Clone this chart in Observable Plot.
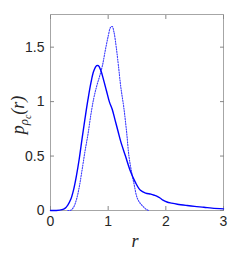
<!DOCTYPE html>
<html><head><meta charset="utf-8">
<script src="https://cdn.jsdelivr.net/npm/d3@7"></script>
<script src="https://cdn.jsdelivr.net/npm/@observablehq/plot@0.6"></script>
<style>body{margin:0;background:#fff;} svg{display:block;} .lbl{font-family:'Liberation Serif','DejaVu Serif',serif !important;font-style:italic;}</style>
</head><body><div id="chart"></div>
<script>
const solidR = [0,0.1,0.2,0.25,0.3,0.35,0.4,0.45,0.5,0.55,0.6,0.65,0.7,0.75,0.8,0.83,0.87,0.92,0.97,1.02,1.07,1.12,1.17,1.22,1.3,1.39,1.47,1.56,1.65,1.74,1.8,1.85,1.9,1.95,2.02,2.1,2.2,2.37,2.5,2.66,2.8,3.0];
const solidP = [0,0,0.008,0.02,0.05,0.1,0.19,0.32,0.48,0.67,0.85,1.02,1.17,1.28,1.33,1.33,1.29,1.2,1.1,1.0,0.93,0.83,0.73,0.63,0.5,0.355,0.26,0.185,0.16,0.15,0.14,0.13,0.115,0.095,0.078,0.068,0.058,0.046,0.038,0.03,0.022,0.015];
const dotR = [0.3,0.35,0.4,0.45,0.5,0.55,0.6,0.65,0.7,0.75,0.8,0.85,0.9,0.95,1.0,1.04,1.07,1.1,1.14,1.18,1.22,1.27,1.32,1.36,1.4,1.45,1.5,1.55,1.62,1.66,1.7];
const dotP = [0,0.002,0.03,0.1,0.22,0.38,0.55,0.7,0.88,1.03,1.14,1.23,1.33,1.47,1.6,1.68,1.69,1.64,1.5,1.32,1.13,0.95,0.72,0.5,0.37,0.24,0.12,0.07,0.03,0.01,0];
const xTicks = [0,1,2,3];
const yTicks = [0,0.5,1,1.5];
const yTickLabels = ["0","0.5","1","1.5"];

const solid = solidR.map((r,i)=>({r, p: solidP[i]}));
const dotted = dotR.map((r,i)=>({r, p: dotP[i]}));

const plot = Plot.plot({
  width: 240, height: 262,
  marginLeft: 50, marginRight: 17, marginTop: 14, marginBottom: 52,
  style: {fontFamily: "'Liberation Sans', Arial, sans-serif", fontSize: "14px", color: "#262626"},
  x: {domain: [0,3]},
  y: {domain: [0,1.8]},
  marks: [
    Plot.frame({stroke: "#a6a6a6", strokeWidth: 1}),
    Plot.axisX(xTicks, {anchor: "bottom", tickSize: -4, tickPadding: 10, stroke: "#888", fontSize: 14, fill: "#262626", label: null}),
    Plot.axisX(xTicks, {anchor: "top", tickSize: -4, tickFormat: () => "", stroke: "#888", label: null}),
    Plot.axisY(yTicks, {anchor: "left", tickSize: -4, tickPadding: 10, stroke: "#888", fontSize: 14, fill: "#262626", tickFormat: (d,i) => yTickLabels[i], label: null}),
    Plot.axisY(yTicks, {anchor: "right", tickSize: -4, tickFormat: () => "", stroke: "#888", label: null}),
    Plot.line(dotted, {x: "r", y: "p", stroke: "#3a3aff", strokeWidth: 1.1, strokeDasharray: "1.2,1.4", curve: "catmull-rom"}),
    Plot.line(solid, {x: "r", y: "p", stroke: "#0000ff", strokeWidth: 1.4, curve: "catmull-rom"})
  ]
});
document.getElementById("chart").appendChild(plot);

const svg = d3.select(plot);
// x label
svg.append("text").attr("class","lbl").attr("x", 135).attr("y", 247).attr("text-anchor","middle")
  .style("font-size","18px").attr("fill","#262626").text("r");
// y label
const yl = svg.append("text").attr("class","lbl").attr("transform","translate(24,115) rotate(-90)").attr("text-anchor","middle")
  .style("font-size","18px").attr("fill","#262626");
yl.append("tspan").text("p");
yl.append("tspan").style("font-size","13px").attr("dy",4).text("ρ");
yl.append("tspan").style("font-size","10px").attr("dy",3).text("c");
yl.append("tspan").attr("dy",-7).text("(r)");
</script></body></html>
